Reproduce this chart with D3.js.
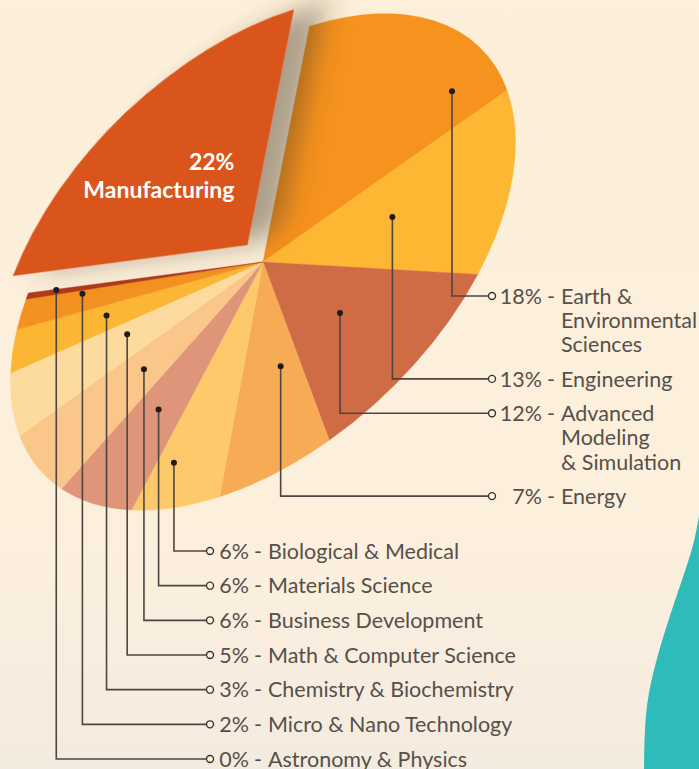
<!DOCTYPE html>
<html>
<head>
<meta charset="utf-8">
<script src="https://cdn.jsdelivr.net/npm/d3@7"></script>
<style>
  body { margin:0; background:#fcefdc; }
  svg { display:block; }
  text { font-family: Lato, "Open Sans", sans-serif; }
</style>
</head>
<body>
<script>
// slices, clockwise from the exploded one
const categories = ["Manufacturing","Earth & Environmental Sciences","Engineering",
  "Advanced Modeling & Simulation","Energy","Biological & Medical","Materials Science",
  "Business Development","Math & Computer Science","Chemistry & Biochemistry",
  "Micro & Nano Technology","Astronomy & Physics"];
const shares = [22,18,13,12,7,6,6,6,5,3,2,0.4];
const pctLabels = ["22%","18%","13%","12%","7%","6%","6%","6%","5%","3%","2%","0%"];
const labelLines = [["Manufacturing"],["Earth &","Environmental","Sciences"],["Engineering"],
  ["Advanced","Modeling","& Simulation"],["Energy"],["Biological & Medical"],["Materials Science"],
  ["Business Development"],["Math & Computer Science"],["Chemistry & Biochemistry"],
  ["Micro & Nano Technology"],["Astronomy & Physics"]];
const colors = ["#d9541e","#f6921e","#fdb733","#cf6b45","#f8ab55","#fec96a","#df957a",
  "#fac68a","#fdda9e","#fbb634","#f39220","#b33a1b"];
const rightGroup = [1,2,3,4];
const bottomGroup = [5,6,7,8,9,10,11];

// where the leader dot sits inside each slice (fraction of sweep, fraction of radius)
const leaderPos = [null,[.82,.836],[.5,.518],[.49,.505],[.30,.523],[.74,.81],[.52,.611],
  [.5,.526],[.66,.539],[.6,.627],[.84,.757],[.86,.88]];

const W = 699, H = 769;
const cx = 263, cy = 262, rx = 305, ry = 180, tilt = -44;
const explode = 23;
const rad = Math.PI/180;

const svg = d3.select("body").append("svg").attr("width",W).attr("height",H);
const defs = svg.append("defs");

const bg = defs.append("linearGradient").attr("id","bg").attr("x1",0).attr("x2",0).attr("y1",0).attr("y2",1);
bg.append("stop").attr("offset","0").attr("stop-color","#fdefd9");
bg.append("stop").attr("offset","0.72").attr("stop-color","#fcefdd");
bg.append("stop").attr("offset","1").attr("stop-color","#f4ebe0");
svg.append("rect").attr("width",W).attr("height",H).attr("fill","url(#bg)");

const shadow = defs.append("filter").attr("id","shadow")
  .attr("x","-30%").attr("y","-30%").attr("width","160%").attr("height","160%");
shadow.append("feDropShadow").attr("dx",9).attr("dy",9).attr("stdDeviation",6)
  .attr("flood-color","#4a3a22").attr("flood-opacity",0.45);

// teal shape, bottom right
const teal = [[699,516],[693,545],[682,580],[667,625],[654,670],[646,715],[644,769]];
svg.append("path")
  .attr("d", d3.line().curve(d3.curveNatural)(teal) + `L${W},${H}L${W},516Z`)
  .attr("fill","#2fbbba");

const data = categories.map((c,i)=>({name:c, v:shares[i], i}));
const a0 = -38.6*rad;
const pie = d3.pie().sort(null).value(d=>d.v).startAngle(a0).endAngle(a0+2*Math.PI);
const arcs = pie(data);
const arc = d3.arc().innerRadius(0).outerRadius(100);

// project a pie angle / radius fraction onto the tilted ellipse
function project(a, r){
  const x = rx*r*Math.sin(a), y = -ry*r*Math.cos(a);
  const c = Math.cos(tilt*rad), s = Math.sin(tilt*rad);
  return [cx + x*c - y*s, cy + x*s + y*c];
}
const pieTransform = `rotate(${tilt}) scale(${rx/100},${ry/100})`;

const g = svg.append("g").attr("transform",`translate(${cx},${cy}) ${pieTransform}`);
g.selectAll("path.slice")
  .data(arcs.filter(d=>d.index!==0))
  .join("path")
  .attr("class","slice")
  .attr("d",arc)
  .attr("fill",d=>colors[d.index])
  .attr("stroke",d=>colors[d.index])
  .attr("stroke-width",0.4)
  .attr("vector-effect","non-scaling-stroke");

// exploded slice
const m = arcs[0];
const mid = (m.startAngle+m.endAngle)/2;
const dir = project(mid,1);
const len = Math.hypot(dir[0]-cx, dir[1]-cy);
const off = [(dir[0]-cx)/len*explode, (dir[1]-cy)/len*explode];
svg.append("g")
  .attr("transform",`translate(${cx+off[0]},${cy+off[1]}) ${pieTransform}`)
  .append("path")
  .attr("d",arc(m))
  .attr("fill",colors[0])
  .attr("filter","url(#shadow)");

const mp = project(mid,0.55);
const mt = svg.append("text")
  .attr("text-anchor","end")
  .attr("fill","#fff")
  .attr("font-weight",700)
  .attr("font-size",23);
mt.append("tspan").attr("x",mp[0]+off[0]+54).attr("y",mp[1]+off[1]-2).text(pctLabels[0]);
mt.append("tspan").attr("x",mp[0]+off[0]+54).attr("y",mp[1]+off[1]+26).text(labelLines[0][0]);

// label rows
const lineH = 24.3;
const labelY = {};
let yy = 296;
rightGroup.forEach(i=>{ labelY[i] = yy; yy += labelLines[i].length*lineH + 10; });
const yBottom = d3.scalePoint().domain(bottomGroup).range([551,759]);
bottomGroup.forEach(i=>{ labelY[i] = yBottom(i); });

const labelX = {};
rightGroup.forEach(i=>labelX[i] = 492);
bottomGroup.forEach(i=>labelX[i] = 210);

const lineColor = "#4d4640", textColor = "#56504b";
const leaders = svg.append("g");
const labels = svg.append("g");

[...rightGroup, ...bottomGroup].forEach(i=>{
  const d = arcs[i];
  const [f, r] = leaderPos[i];
  const p = project(d.startAngle + f*(d.endAngle-d.startAngle), r);
  const ly = labelY[i], lx = labelX[i];
  leaders.append("path")
    .attr("d",`M${p[0]},${p[1]}V${ly}H${lx-3.5}`)
    .attr("fill","none").attr("stroke",lineColor).attr("stroke-width",1.6);
  leaders.append("circle").attr("cx",p[0]).attr("cy",p[1]).attr("r",3).attr("fill","#1f1b18");
  leaders.append("circle").attr("cx",lx).attr("cy",ly).attr("r",3.5)
    .attr("fill","#fdf3e6").attr("stroke","#3a3430").attr("stroke-width",1.4);

  const pctEnd = lx + (rightGroup.includes(i) ? 50 : 39);
  const t = labels.append("g").attr("font-size",21.5).attr("font-weight",400).attr("fill",textColor);
  t.append("text").attr("x",pctEnd).attr("y",ly).attr("dy","0.36em")
    .attr("text-anchor","end").text(pctLabels[i]);
  t.append("text").attr("x",pctEnd+9).attr("y",ly).attr("dy","0.36em")
    .attr("text-anchor","middle").text("-");
  labelLines[i].forEach((ln,k)=>{
    t.append("text").attr("x",pctEnd+19).attr("y",ly+k*lineH).attr("dy","0.36em").text(ln);
  });
});
</script>
</body>
</html>
